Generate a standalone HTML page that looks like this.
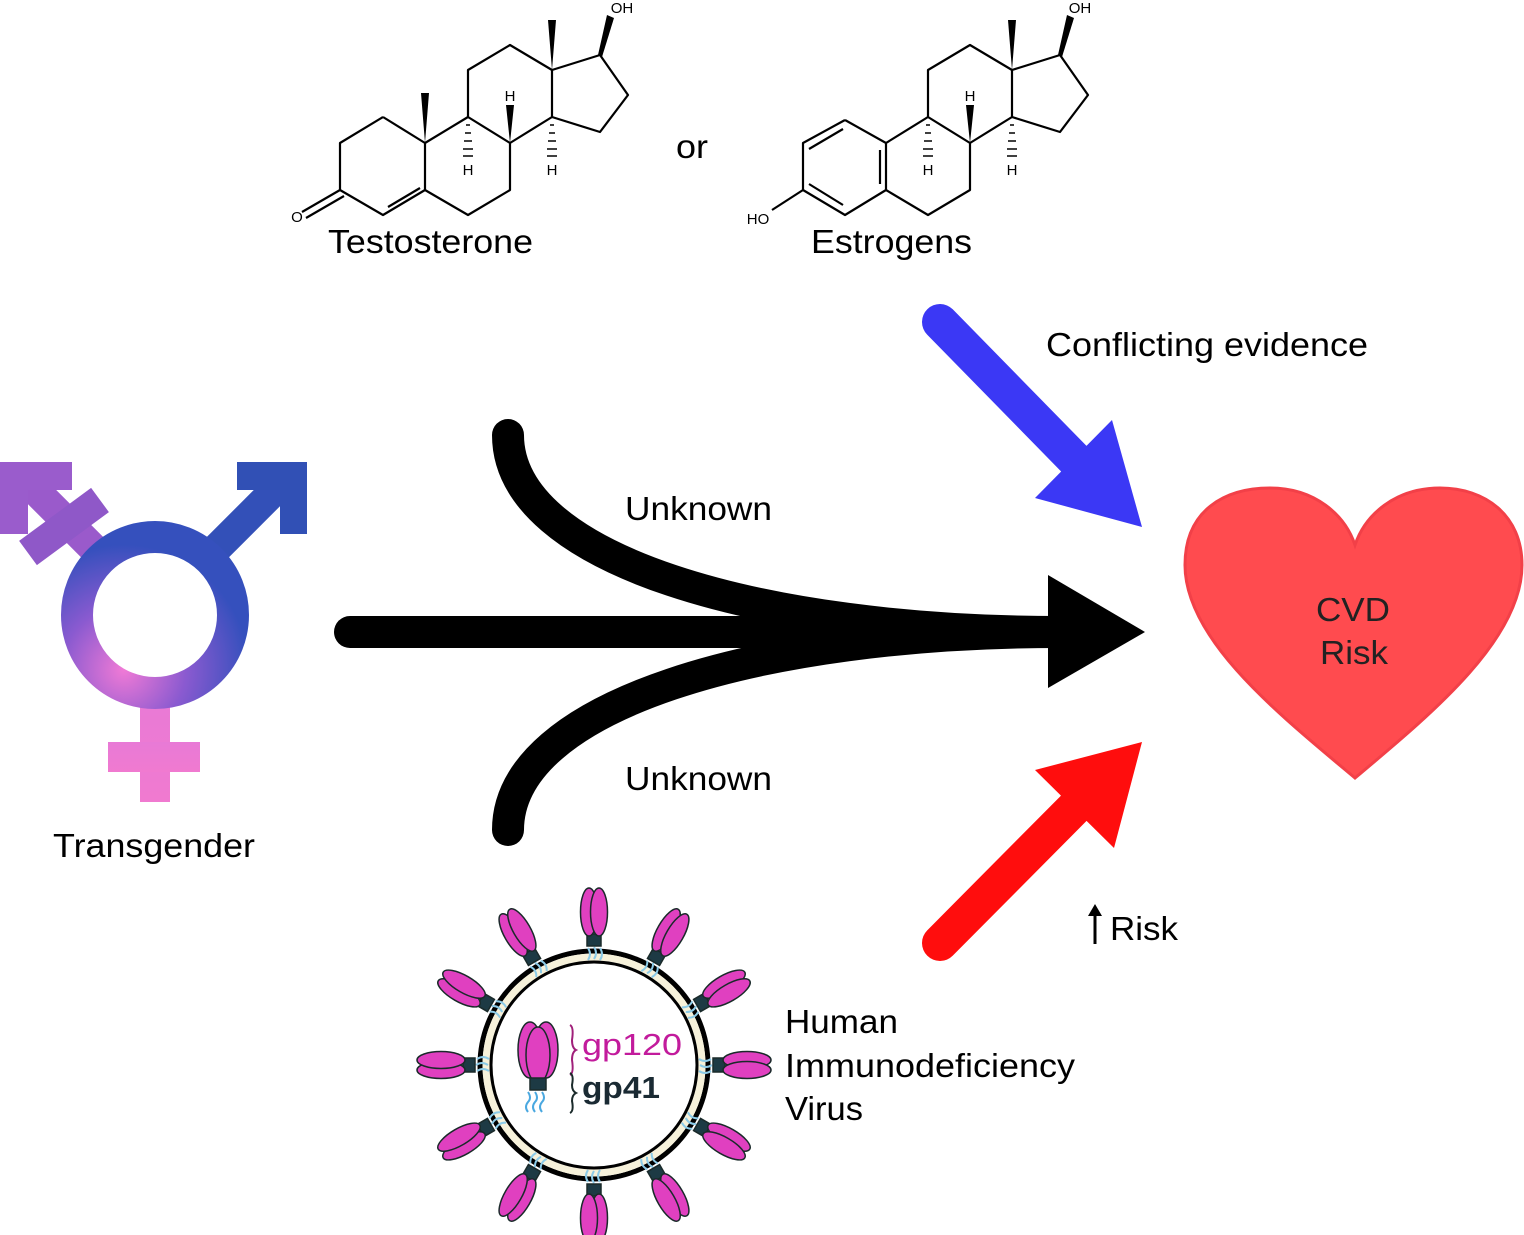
<!DOCTYPE html>
<html><head><meta charset="utf-8"><style>
html,body{margin:0;padding:0;background:#fff}
svg{display:block}
text{font-family:"Liberation Sans",sans-serif}
</style></head><body>
<svg width="1524" height="1235" viewBox="0 0 1524 1235" xmlns="http://www.w3.org/2000/svg">
<defs>
<linearGradient id="tp" x1="0" y1="0" x2="0" y2="1">
<stop offset="0" stop-color="#e87ad6"/><stop offset="1" stop-color="#f07ad0"/>
</linearGradient>
<radialGradient id="ring" cx="0.3" cy="0.85" r="0.8">
<stop offset="0" stop-color="#f07ad6"/><stop offset="0.5" stop-color="#8a5ad0"/><stop offset="1" stop-color="#3550bd"/>
</radialGradient>
<g id="spike">
<g stroke="#1a2a2a" stroke-width="1.5">
<path d="M-6,-117 q4,6 0,12 M0,-118 q4,6 0,12 M6,-117 q4,6 0,12" stroke="#8ccbe8" fill="none" stroke-width="2"/>
<rect x="-7" y="-131" width="14" height="12" fill="#1d3a44"/>
<ellipse cx="-5" cy="-153" rx="8.5" ry="24" fill="#e040c0"/>
<ellipse cx="5" cy="-153" rx="8.5" ry="24" fill="#e040c0"/>
</g>
</g>
</defs>

<!-- Testosterone -->
<g stroke="#000" stroke-width="2.2" fill="none" stroke-linejoin="round">
<polyline points="383,117 340,143 340,190 383,215 425,190 425,143 383,117"/>
<line x1="388" y1="207" x2="420" y2="188"/>
<line x1="340" y1="190" x2="302" y2="212"/>
<line x1="344" y1="196" x2="306" y2="218"/>
<polyline points="425,143 468,117 510,143 510,190 468,215 425,190"/>
<polyline points="468,117 468,70 510,45 552,70 552,117 510,143"/>
<polyline points="552,70 600,55 628,95 600,132 552,117"/>
</g>
<g fill="#000">
<polygon points="421,93 429,93 425,143"/>
<polygon points="548,20 556,20 552,70"/>
<polygon points="598,55 607,15 614,18 602,57"/>
<polygon points="506,105 514,105 510,143"/>
</g>
<g stroke="#000" stroke-width="1.5">
<line x1="466" y1="125" x2="470" y2="125"/><line x1="465" y1="133" x2="471" y2="133"/><line x1="464" y1="141" x2="472" y2="141"/><line x1="463" y1="149" x2="473" y2="149"/><line x1="463" y1="156" x2="473" y2="156"/>
<line x1="550" y1="125" x2="554" y2="125"/><line x1="549" y1="133" x2="555" y2="133"/><line x1="548" y1="141" x2="556" y2="141"/><line x1="547" y1="149" x2="557" y2="149"/><line x1="547" y1="156" x2="557" y2="156"/>
</g>
<g font-size="15" text-anchor="middle">
<text x="510" y="101">H</text><text x="468" y="175">H</text><text x="552" y="175">H</text>
<text x="622" y="13">OH</text><text x="297" y="222">O</text>
</g>

<!-- Estrogen -->
<g stroke="#000" stroke-width="2.2" fill="none" stroke-linejoin="round">
<polyline points="845,120 803,143 803,190 845,215 886,190 886,143 845,120"/>
<line x1="809" y1="149" x2="843" y2="129"/>
<line x1="809" y1="184" x2="843" y2="205"/>
<line x1="880" y1="150" x2="880" y2="184"/>
<line x1="803" y1="190" x2="772" y2="210"/>
<polyline points="886,143 928,117 970,143 970,190 928,215 886,190"/>
<polyline points="928,117 928,70 970,45 1012,70 1012,117 970,143"/>
<polyline points="1012,70 1060,55 1088,95 1060,132 1012,117"/>
</g>
<g fill="#000">
<polygon points="1008,20 1016,20 1012,70"/>
<polygon points="1058,55 1067,15 1074,18 1062,57"/>
<polygon points="966,105 974,105 970,143"/>
</g>
<g stroke="#000" stroke-width="1.5">
<line x1="926" y1="125" x2="930" y2="125"/><line x1="925" y1="133" x2="931" y2="133"/><line x1="924" y1="141" x2="932" y2="141"/><line x1="923" y1="149" x2="933" y2="149"/><line x1="923" y1="156" x2="933" y2="156"/>
<line x1="1010" y1="125" x2="1014" y2="125"/><line x1="1009" y1="133" x2="1015" y2="133"/><line x1="1008" y1="141" x2="1016" y2="141"/><line x1="1007" y1="149" x2="1017" y2="149"/><line x1="1007" y1="156" x2="1017" y2="156"/>
</g>
<g font-size="15" text-anchor="middle">
<text x="970" y="101">H</text><text x="928" y="175">H</text><text x="1012" y="175">H</text>
<text x="1080" y="13">OH</text><text x="758" y="224">HO</text>
</g>

<g font-size="33" fill="#000" lengthAdjust="spacingAndGlyphs">
<text x="328" y="253" textLength="205" lengthAdjust="spacingAndGlyphs">Testosterone</text>
<text x="676" y="158" textLength="32" lengthAdjust="spacingAndGlyphs">or</text>
<text x="811" y="253" textLength="161" lengthAdjust="spacingAndGlyphs">Estrogens</text>
<text x="1046" y="356" textLength="322" lengthAdjust="spacingAndGlyphs">Conflicting evidence</text>
<text x="625" y="520" textLength="147" lengthAdjust="spacingAndGlyphs">Unknown</text>
<text x="625" y="790" textLength="147" lengthAdjust="spacingAndGlyphs">Unknown</text>
<text x="53" y="857" textLength="202" lengthAdjust="spacingAndGlyphs">Transgender</text>
<text x="1110" y="940" textLength="68" lengthAdjust="spacingAndGlyphs">Risk</text>
<text x="785" y="1033" textLength="113" lengthAdjust="spacingAndGlyphs">Human</text>
<text x="785" y="1077" textLength="290" lengthAdjust="spacingAndGlyphs">Immunodeficiency</text>
<text x="785" y="1120" textLength="78" lengthAdjust="spacingAndGlyphs">Virus</text>
</g>
<g stroke="#000" stroke-width="3"><line x1="1095" y1="910" x2="1095" y2="944"/></g>
<polygon points="1088,916 1095,904 1102,916" fill="#000"/>

<!-- Transgender symbol -->
<g>
<rect x="140" y="690" width="30" height="112" fill="url(#tp)"/>
<rect x="108" y="742" width="92" height="30" fill="url(#tp)"/>
<line x1="95" y1="550" x2="25" y2="480" stroke="#9a5acb" stroke-width="30"/>
<polygon points="0,462 72,462 72,490 28,490 28,534 0,534" fill="#9a5ccc"/>
<line x1="28" y1="553" x2="100" y2="500" stroke="#8f58c8" stroke-width="30"/>
<line x1="215" y1="550" x2="285" y2="480" stroke="#3350b8" stroke-width="30"/>
<polygon points="237,462 307,462 307,534 280,534 280,490 237,490" fill="#3150b5"/>
<circle cx="155" cy="615" r="78" fill="none" stroke="url(#ring)" stroke-width="32"/>
</g>

<!-- Black arrows -->
<g stroke="#000" stroke-width="32" fill="none" stroke-linecap="round">
<line x1="350" y1="632" x2="1060" y2="632"/>
<path d="M508,435 C508,560 760,632 1060,632"/>
<path d="M508,830 C508,705 760,632 1060,632"/>
</g>
<polygon points="1048,575 1145,632 1048,688" fill="#000"/>

<!-- Blue arrow -->
<line x1="940" y1="322" x2="1080" y2="465" stroke="#3b38f5" stroke-width="36" stroke-linecap="round"/>
<polygon points="1112,420 1142,527 1035,498" fill="#3b38f5"/>
<!-- Red arrow -->
<line x1="940" y1="943" x2="1080" y2="802" stroke="#ff0d0d" stroke-width="36" stroke-linecap="round"/>
<polygon points="1035,770 1142,742 1114,848" fill="#ff0d0d"/>

<!-- Heart -->
<path d="M1355,778 C1280,715 1185,640 1185,565 C1185,510 1225,488 1270,488 C1315,488 1345,515 1355,545 C1365,515 1395,488 1440,488 C1485,488 1522,515 1522,565 C1522,640 1430,715 1355,778 Z" fill="#ff4b4f" stroke="#f24048" stroke-width="3"/>
<g font-size="33" fill="#222">
<text x="1316" y="621" textLength="74" lengthAdjust="spacingAndGlyphs">CVD</text><text x="1320" y="664" textLength="68" lengthAdjust="spacingAndGlyphs">Risk</text>
</g>

<!-- Virus -->
<g transform="translate(594,1065)">
<circle r="114" fill="none" stroke="#000" stroke-width="5"/>
<circle r="108" fill="none" stroke="#f6f1da" stroke-width="7"/>
<circle r="103" fill="none" stroke="#000" stroke-width="3"/>
<use href="#spike" transform="rotate(0)"/>
<use href="#spike" transform="rotate(30)"/>
<use href="#spike" transform="rotate(60)"/>
<use href="#spike" transform="rotate(90)"/>
<use href="#spike" transform="rotate(120)"/>
<use href="#spike" transform="rotate(150)"/>
<use href="#spike" transform="rotate(180)"/>
<use href="#spike" transform="rotate(210)"/>
<use href="#spike" transform="rotate(240)"/>
<use href="#spike" transform="rotate(270)"/>
<use href="#spike" transform="rotate(300)"/>
<use href="#spike" transform="rotate(330)"/>
</g>
<g stroke="#1a2a2a" stroke-width="1.5">
<ellipse cx="530" cy="1050" rx="12" ry="28" fill="#e040c0"/>
<ellipse cx="546" cy="1050" rx="12" ry="28" fill="#e040c0"/>
<ellipse cx="538" cy="1055" rx="12" ry="28" fill="#e040c0"/>
<rect x="530" y="1078" width="16" height="12" fill="#1d3a44"/>
</g>
<path d="M528,1092 q4,6 0,10 q-4,5 0,10 M535,1092 q4,6 0,10 q-4,5 0,10 M542,1092 q4,6 0,10 q-4,5 0,10" stroke="#4aa8e0" stroke-width="2" fill="none"/>
<path d="M570,1025 q4,2 2,15 q0,8 4,10 q-4,2 -4,10 q2,13 -2,15" stroke="#a0207a" stroke-width="2" fill="none"/>
<path d="M570,1073 q4,2 2,12 q0,6 4,8 q-4,2 -4,8 q2,10 -2,12" stroke="#1a2a2a" stroke-width="2" fill="none"/>
<text x="582" y="1055" font-size="31" fill="#c21b9c" textLength="100" lengthAdjust="spacingAndGlyphs">gp120</text>
<text x="582" y="1098" font-size="31" font-weight="bold" fill="#1a2a33" textLength="78" lengthAdjust="spacingAndGlyphs">gp41</text>
</svg>
</body></html>
